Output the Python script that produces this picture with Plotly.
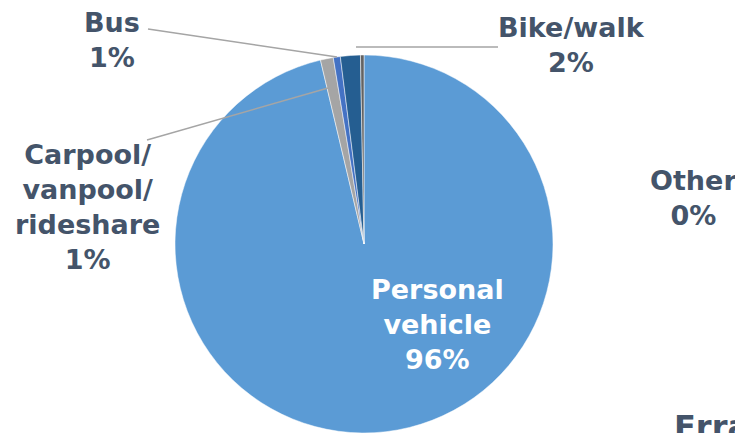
import plotly.graph_objects as go

categories = ["Personal vehicle", "Carpool/vanpool/rideshare", "Bus", "Bike/walk", "Other"]
values = [96.3, 1.1, 0.6, 1.7, 0.3]
colors = ["#5B9BD5", "#A5A5A5", "#4472C4", "#255E91", "#636363"]
display_labels = ["Personal<br>vehicle", "Carpool/<br>vanpool/<br>rideshare", "Bus", "Bike/walk", "Other"]

W, H = 743, 433
OFF = 8  # page body margin offset

def px_x(x):
    return (x - OFF) / W

def px_y(y):
    return 1 - (y - OFF) / H

total = sum(values)
pcts = [round(v / total * 100) for v in values]

cx, cy, r = 364, 244, 189
fig = go.Figure(go.Pie(
    labels=categories,
    values=values,
    marker=dict(colors=colors, line=dict(color="white", width=0.5)),
    sort=False,
    direction="clockwise",
    rotation=0,
    textinfo="none",
    hoverinfo="label+percent",
    showlegend=False,
    domain=dict(x=[px_x(cx - r), px_x(cx + r)], y=[px_y(cy + r), px_y(cy - r)]),
))

label_pos = [(437, 324), (87, 207), (112, 40), (571, 45), (693, 198)]
label_colors = ["white", "#44546A", "#44546A", "#44546A", "#44546A"]
annotations = []
for lab, p, (px, py), c in zip(display_labels, pcts, label_pos, label_colors):
    annotations.append(dict(
        x=px_x(px), y=px_y(py), xref="paper", yref="paper",
        text=f"<b>{lab}<br>{p}%</b>", showarrow=False,
        font=dict(family="DejaVu Sans", size=27, color=c),
        xanchor="center", yanchor="middle", align="center",
    ))
annotations.append(dict(
    x=px_x(672), y=px_y(406), xref="paper", yref="paper",
    text="<b>Errands</b>", showarrow=False,
    font=dict(family="DejaVu Sans", size=32, color="#44546A"),
    xanchor="left", yanchor="top",
))

leaders = [((148, 29), (337, 57)), ((147, 140), (328, 88)), ((356, 47), (498, 47))]
shapes = []
for (x0, y0), (x1, y1) in leaders:
    shapes.append(dict(type="line", xref="paper", yref="paper",
                       x0=px_x(x0), y0=px_y(y0), x1=px_x(x1), y1=px_y(y1),
                       line=dict(color="#A5A5A5", width=1.5)))

fig.update_layout(
    width=W, height=H,
    margin=dict(l=0, r=0, t=0, b=0),
    paper_bgcolor="white", plot_bgcolor="white",
    annotations=annotations, shapes=shapes,
)
fig.write_html("out.html")
